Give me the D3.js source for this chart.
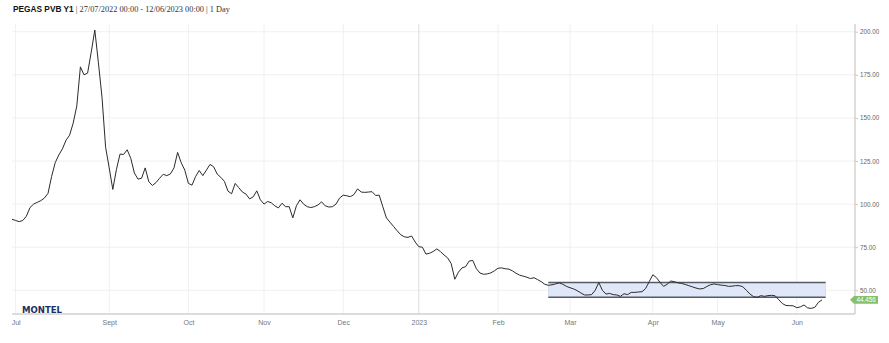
<!DOCTYPE html>
<html><head><meta charset="utf-8">
<script src="https://cdn.jsdelivr.net/npm/d3@7"></script>
<style>body{margin:0;background:#fff}svg{display:block}</style>
</head><body>
<svg id="c" width="889" height="343"></svg>
<script>
// ---- data ----
const startDate = "2022-07-26";
const endDate = "2023-06-12";
const holidays = ["2022-12-26", "2023-04-07", "2023-04-10", "2023-05-01"];
const prices = [
  91.2, 90.5, 89.8, 90.5, 93, 98, 100, 101, 102, 103.5,
  106.2, 116, 124, 128.5, 132, 137, 140, 147, 157, 179.6,
  175, 176, 188, 201, 182, 162, 133, 121, 108.5, 120,
  129, 128.8, 131.5, 126.5, 118, 114.5, 115, 121, 113, 110.8,
  112.5, 115, 117.3, 116.5, 117.5, 121, 130, 124, 119.7, 112,
  111, 116, 119.5, 116.5, 119.7, 123, 121.7, 117.4, 115.5, 113.2,
  107.5, 106, 112, 109.5, 107, 105.8, 103, 104.2, 107.7, 102.5,
  100, 101.5, 100.8, 99, 97.8, 100.5, 98.5, 98.5, 92, 99,
  102.5, 100, 98.5, 98, 98.5, 99.5, 101.3, 99, 98.3, 98.5,
  100, 103.5, 105.2, 104.8, 104.3, 105.6, 108.8, 107, 106.8, 107,
  107.2, 105, 105.2, 98.5, 92, 89.5, 87, 84.5, 82.2, 81,
  80.7, 81.5, 78, 75.3, 75, 71, 71.5, 72.5, 74, 72.5,
  70.5, 68.8, 65.5, 56.4, 60.5, 63, 63.7, 67, 67.3, 62.5,
  60, 59.3, 59.5, 60.1, 61.3, 62.8, 63, 62.5, 62.3, 61.3,
  59.9, 58.8, 58.2, 57.6, 56.8, 57.3, 56.2, 55, 53.5, 52.9,
  53.2, 53.7, 54.3, 53.5, 52.3, 51.5, 50.8, 49.8, 48.5, 47.3,
  47.3, 47.5, 50, 54.5, 50, 47.8, 48.2, 47.5, 47.3, 46.5,
  48, 47.5, 48.8, 48.8, 49, 49.2, 51, 55, 59, 57.4,
  54.6, 52.3, 53.5, 55.4, 55, 54.3, 54, 53.4, 52.7, 52,
  51.3, 50.8, 51, 52.2, 53.2, 53.7, 53.3, 53, 52.8, 52.3,
  52.4, 52.7, 52.7, 52.1, 50, 47.8, 46.3, 45.9, 46.9, 46.5,
  46.9, 47.1, 46.8, 44.5, 42.3, 41.2, 41.1, 41.0, 39.9, 40.4,
  41.5, 39.8, 39.5, 40.1, 43, 44.456
];
const yTicks = [50, 75, 100, 125, 150, 175, 200];
const xTickDates = ["2022-07-27", "2022-09-01", "2022-10-01", "2022-11-01", "2022-12-01",
  "2023-01-01", "2023-02-01", "2023-03-01", "2023-04-01", "2023-05-01", "2023-06-01"];
const xTickLabels = ["Jul", "Sept", "Oct", "Nov", "Dec", "2023", "Feb", "Mar", "Apr", "May", "Jun"];
const bandFrom = "2023-02-21";
const bandLow = 46;
const bandHigh = 54.5;
const lastLabel = "44.456";
const titleBold = "PEGAS PVB Y1";
const titleRest = " | 27/07/2022 00:00 - 12/06/2023 00:00 | 1 Day";

// ---- trading days ----
const parse = d3.utcParse("%Y-%m-%d");
const fmt = d3.utcFormat("%Y-%m-%d");
const hol = new Set(holidays);
const days = d3.utcDays(parse(startDate), d3.utcDay.offset(parse(endDate), 1))
  .filter(d => d.getUTCDay() !== 0 && d.getUTCDay() !== 6 && !hol.has(fmt(d)));
const data = days.map((d, i) => ({date: d, i, v: prices[i]})).filter(d => d.v != null);
const idxOf = s => { const t = parse(s); const k = days.findIndex(d => d >= t); return k < 0 ? days.length : k; };

// ---- layout ----
const svg = d3.select("#c");
const plotL = 12, plotR = 855, plotT = 24, plotB = 314;
const x = d3.scaleLinear().domain([0, days.length - 1]).range([12, 822]);
const y = d3.scaleLinear().domain([50, 200]).range([290.3, 31.7]);

// title
const title = svg.append("text").attr("x", 13).attr("y", 12).attr("font-size", 8.3).attr("fill", "#111");
title.append("tspan").attr("font-family", "Liberation Sans, Arial, sans-serif").attr("font-weight", "bold").text(titleBold);
title.append("tspan").attr("font-family", "Liberation Serif, Times New Roman, serif").attr("fill", "#333").text(titleRest);

// horizontal grid
svg.append("g").selectAll("line").data(yTicks).join("line")
  .attr("x1", plotL).attr("x2", plotR).attr("y1", d => y(d)).attr("y2", d => y(d))
  .attr("stroke", "#f0f0f0").attr("stroke-width", 1);

// vertical grid
const xTickIdx = xTickDates.map(idxOf);
svg.append("g").selectAll("line").data(xTickIdx).join("line")
  .attr("x1", d => x(d)).attr("x2", d => x(d)).attr("y1", plotT).attr("y2", plotB)
  .attr("stroke", (d, k) => xTickLabels[k] === "2023" ? "#dcdcdc" : "#f0f0f0").attr("stroke-width", 1);

// band
const bx0 = x(idxOf(bandFrom)), bx1 = x(days.length);
svg.append("rect").attr("x", bx0).attr("y", y(bandHigh)).attr("width", bx1 - bx0).attr("height", y(bandLow) - y(bandHigh))
  .attr("fill", "#dfe7f8").attr("stroke", "#c9d3e6").attr("stroke-width", 0.6);
svg.append("g").selectAll("line").data([bandHigh, bandLow]).join("line")
  .attr("x1", bx0).attr("x2", bx1).attr("y1", d => y(d)).attr("y2", d => y(d))
  .attr("stroke", "#555b66").attr("stroke-width", 1.4);

// line
svg.append("path").datum(data)
  .attr("d", d3.line().x(d => x(d.i)).y(d => y(d.v)))
  .attr("fill", "none").attr("stroke", "#2b2b2b").attr("stroke-width", 1).attr("stroke-linejoin", "round");

// x axis
svg.append("line").attr("x1", plotL).attr("x2", plotR).attr("y1", plotB).attr("y2", plotB)
  .attr("stroke", "#d0d0d0").attr("stroke-width", 1.6);
const xa = svg.append("g").attr("transform", `translate(0,${plotB})`)
  .call(d3.axisBottom(x).tickValues(xTickIdx).tickFormat((d, k) => xTickLabels[k]).tickSize(0).tickPadding(6));
xa.select(".domain").remove();
xa.selectAll("text").attr("font-family", "Liberation Sans, Arial, sans-serif").attr("font-size", 7).attr("fill", "#777");

// y axis (right)
svg.append("line").attr("x1", plotR).attr("x2", plotR).attr("y1", plotT).attr("y2", plotB)
  .attr("stroke", "#c8c8c8").attr("stroke-width", 1.2);
const ya = svg.append("g").attr("transform", `translate(${plotR},0)`)
  .call(d3.axisRight(y).tickValues(yTicks).tickFormat(d3.format(".2f")).tickSize(3).tickPadding(2));
ya.select(".domain").remove();
ya.selectAll("line").attr("stroke", "#c8c8c8");
ya.selectAll("text").attr("font-family", "Liberation Sans, Arial, sans-serif").attr("font-size", 6.3).attr("fill", "#666");

// last value tag
const ly = y(prices[prices.length - 1]);
svg.append("path")
  .attr("d", `M${plotR - 5},${ly} L${plotR - 1},${ly - 3.8} L${plotR + 23},${ly - 3.8} L${plotR + 23},${ly + 3.8} L${plotR - 1},${ly + 3.8} Z`)
  .attr("fill", "#86c06a");
svg.append("text").attr("x", plotR + 1.5).attr("y", ly + 2.3)
  .attr("font-family", "Liberation Sans, Arial, sans-serif").attr("font-size", 6.3).attr("fill", "#fff").text(lastLabel);

// logo
svg.append("text").attr("x", 22).attr("y", 312.5)
  .attr("font-family", "DejaVu Sans, sans-serif").attr("font-weight", "bold").attr("font-size", 9.5)
  .attr("textLength", 40).attr("lengthAdjust", "spacingAndGlyphs")
  .attr("fill", "#1d2d5c").text("MONTEL");
</script>
</body></html>
